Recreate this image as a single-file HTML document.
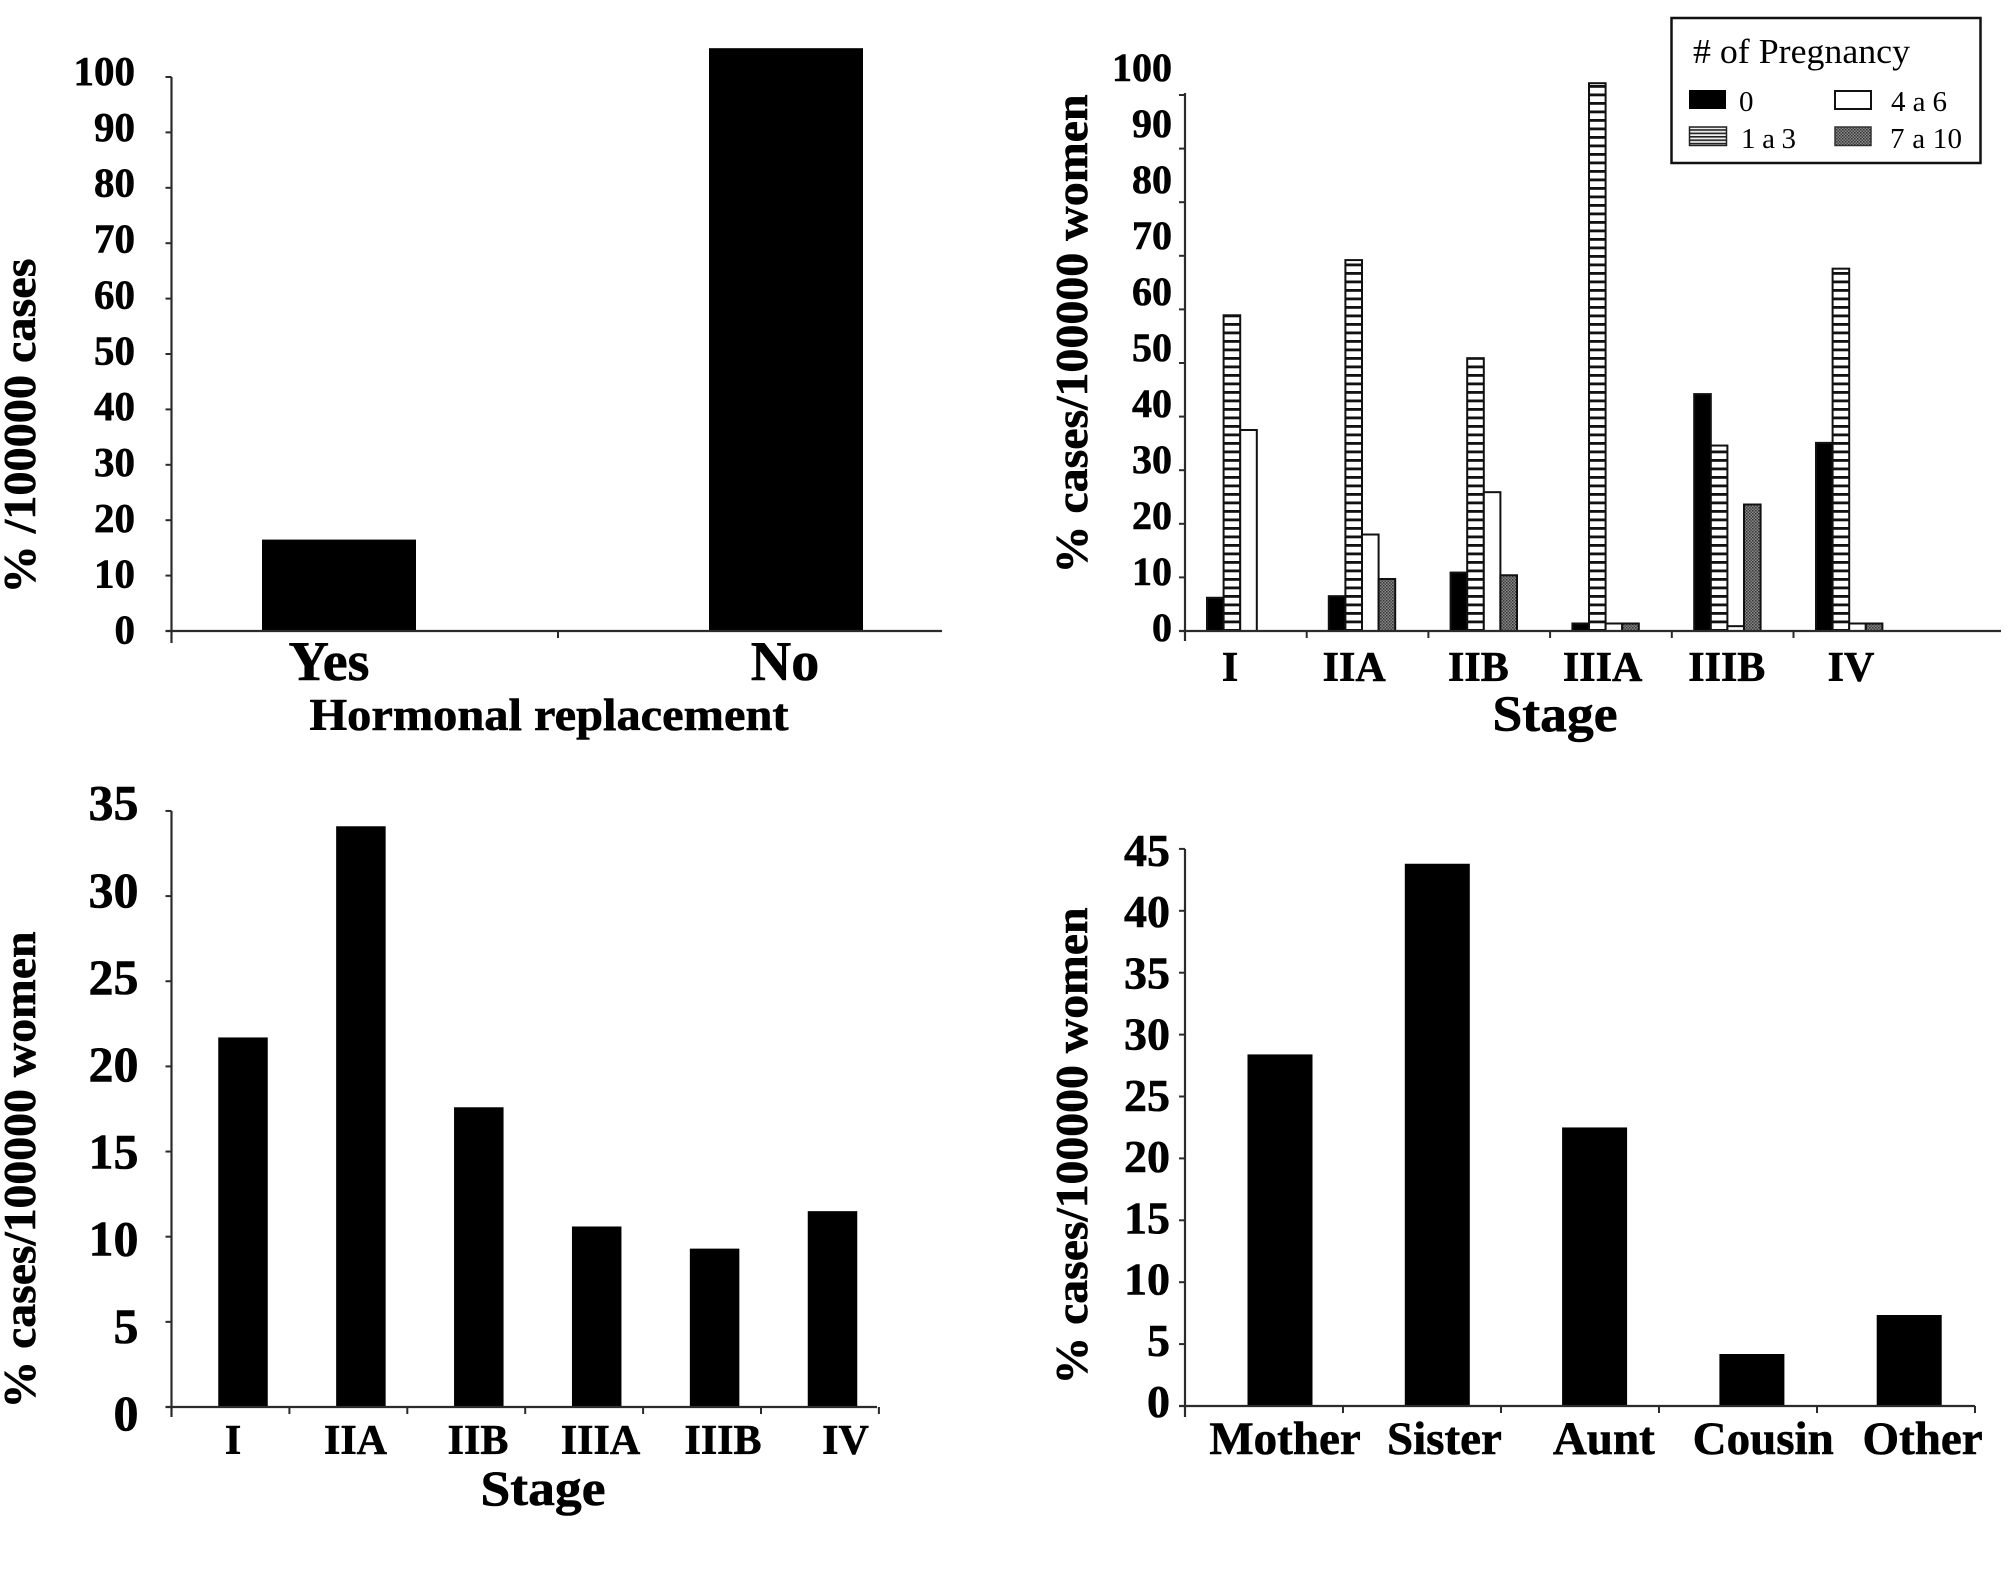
<!DOCTYPE html>
<html lang="en">
<head>
<meta charset="utf-8">
<title>Breast cancer risk factor bar charts</title>
<style>
html,body{margin:0;padding:0;background:#fff;}
svg{display:block;}
text{font-family:"Liberation Serif",serif;fill:#000;}
.b{font-weight:bold;stroke:#000;stroke-width:.6px;}
</style>
</head>
<body>
<svg id="figure" xmlns="http://www.w3.org/2000/svg" width="2008" height="1591" viewBox="0 0 2008 1591">
  <defs>
    <pattern id="stripes" patternUnits="userSpaceOnUse" width="8" height="8.5">
      <rect width="8" height="8.5" fill="#fff"/>
      <rect y="0" width="8" height="2.8" fill="#111"/>
    </pattern>
    <pattern id="stripes-fine" patternUnits="userSpaceOnUse" width="4" height="3.4">
      <rect width="4" height="3.4" fill="#eee"/>
      <rect y="0" width="4" height="1.6" fill="#222"/>
    </pattern>
    <pattern id="dots" patternUnits="userSpaceOnUse" width="3" height="3">
      <rect width="3" height="3" fill="#8a8a8a"/>
      <rect width="1.5" height="1.5" fill="#333"/>
      <rect x="1.5" y="1.5" width="1.5" height="1.5" fill="#444"/>
    </pattern>
  </defs>
  <rect width="2008" height="1591" fill="#fff"/>

  <g id="panel-hormonal">
    <text class="b" transform="translate(35,426) rotate(-90)" text-anchor="middle" font-size="46" textLength="335" lengthAdjust="spacingAndGlyphs">% /100000 cases</text>
    <text class="b" x="549" y="730" text-anchor="middle" font-size="45" textLength="479" lengthAdjust="spacingAndGlyphs">Hormonal replacement</text>
  </g>

  <g id="panel-pregnancy">
    <text class="b" transform="translate(1087,334) rotate(-90)" text-anchor="middle" font-size="46" textLength="479" lengthAdjust="spacingAndGlyphs">% cases/100000 women</text>
    <text class="b" x="1555" y="731" text-anchor="middle" font-size="51" textLength="125" lengthAdjust="spacingAndGlyphs">Stage</text>
  </g>

  <g id="panel-stage">
    <text class="b" transform="translate(35,1170) rotate(-90)" text-anchor="middle" font-size="46" textLength="477" lengthAdjust="spacingAndGlyphs">% cases/100000 women</text>
    <text class="b" x="543" y="1505" text-anchor="middle" font-size="50" textLength="125" lengthAdjust="spacingAndGlyphs">Stage</text>
  </g>

  <g id="panel-relative">
    <text class="b" transform="translate(1087,1146) rotate(-90)" text-anchor="middle" font-size="46" textLength="477" lengthAdjust="spacingAndGlyphs">% cases/100000 women</text>
  </g>

  <g id="legend">
    <rect x="1671.5" y="18" width="309" height="145" fill="#fff" stroke="#111" stroke-width="2.5"/>
    <text x="1693" y="63" font-size="35" textLength="217" lengthAdjust="spacingAndGlyphs"># of Pregnancy</text>
    <rect x="1689" y="90" width="37" height="19" fill="#000"/>
    <text x="1739" y="111" font-size="29">0</text>
    <rect x="1689.5" y="127" width="37" height="18.5" fill="url(#stripes-fine)" stroke="#222" stroke-width="1.5"/>
    <text x="1741" y="148" font-size="29" textLength="55">1 a 3</text>
    <rect x="1835" y="91" width="36" height="18" fill="#fff" stroke="#111" stroke-width="2"/>
    <text x="1891" y="111" font-size="29" textLength="56">4 a 6</text>
    <rect x="1835" y="127" width="36" height="18.5" fill="url(#dots)" stroke="#333" stroke-width="1.5"/>
    <text x="1890" y="148" font-size="29" textLength="72">7 a 10</text>
  </g>
</svg>
<script>
// ---- chart data ----
const hormonalCategories = ["Yes", "No"];
const hormonalValues = [16.5, 105.2];
const hormonalTicks = [0, 10, 20, 30, 40, 50, 60, 70, 80, 90, 100];

const pregnancyCategories = ["I", "IIA", "IIB", "IIIA", "IIIB", "IV"];
const pregnancy0 = [6.2, 6.5, 10.9, 1.4, 44.2, 35.1];
const pregnancy1a3 = [58.9, 69.2, 50.9, 102.2, 34.6, 67.6];
const pregnancy4a6 = [37.5, 18, 25.9, 1.4, 0.9, 1.4];
const pregnancy7a10 = [0, 9.7, 10.4, 1.4, 23.6, 1.4];
const pregnancyTicks = [0, 10, 20, 30, 40, 50, 60, 70, 80, 90, 100];

const stageCategories = ["I", "IIA", "IIB", "IIIA", "IIIB", "IV"];
const stageValues = [21.7, 34.1, 17.6, 10.6, 9.3, 11.5];
const stageTicks = [0, 5, 10, 15, 20, 25, 30, 35];

const relativeCategories = ["Mother", "Sister", "Aunt", "Cousin", "Other"];
const relativeValues = [28.4, 43.8, 22.5, 4.2, 7.35];
const relativeTicks = [0, 5, 10, 15, 20, 25, 30, 35, 40, 45];

// ---- drawing ----
const NS = "http://www.w3.org/2000/svg";
const AXIS = "#2b2b2b";

function make(tag, parent, attrs) {
  const el = document.createElementNS(NS, tag);
  for (const k in attrs) el.setAttribute(k, attrs[k]);
  parent.appendChild(el);
  return el;
}

function drawAxes(g, p, categories, ticks) {
  const y = v => p.y0 - v * p.unit;
  const yAxis = make("line", g, {x1: p.axisX, x2: p.axisX, y1: p.axisTop, y2: p.axisBottom, stroke: AXIS, "stroke-width": 2.2});
  
  
  const xAxis = make("line", g, {x1: p.axisX - 6, x2: p.axisEnd, y1: p.y0, y2: p.y0, stroke: AXIS, "stroke-width": 2.2});
  
  

  ticks.forEach(v => {
    const t = make("line", g, {x1: p.axisX - 6, x2: p.axisX, y1: y(v), y2: y(v), stroke: AXIS, "stroke-width": 2});
    
    
    const lab = make("text", g, {x: p.labelRight, y: p.labelBase0 - v * p.labelUnit, "text-anchor": "end", "font-size": p.tickFont, "class": "b"});
    lab.textContent = String(v);
    
    
  });

  for (let i = 1; i <= p.xTickCount; i++) {
    const tx = p.axisX + i * p.tickStep;
    const t = make("line", g, {x1: tx, x2: tx, y1: p.y0, y2: p.y0 + 7, stroke: AXIS, "stroke-width": 2});
    
    
  }

  categories.forEach((c, i) => {
    const lab = make("text", g, {x: p.catX0 + i * p.catStep, y: p.catBase, "text-anchor": "middle", "font-size": p.catFont, "class": "b"});
    lab.textContent = c;
    
    
  });
}

function drawSimple(id, p, categories, values, ticks) {
  const g = document.getElementById(id);
  values.forEach((v, i) => {
    const top = p.y0 - v * p.unit;
    const bar = make("rect", g, {x: p.barX0 + i * p.barStep - p.barW / 2, y: top, width: p.barW, height: p.y0 - top, fill: "#000"});
    
    
  });
  drawAxes(g, p, categories, ticks);
}

function drawGrouped(id, p, categories, seriesList, ticks) {
  const g = document.getElementById(id);
  seriesList.forEach((s, si) => {
    s.values.forEach((v, i) => {
      if (v <= 0) return;
      const top = p.y0 - v * p.unit;
      const bar = make("rect", g, {
        x: p.barX0 + i * p.barStep + si * p.barW,
        y: top,
        width: p.barW,
        height: p.y0 - top,
        fill: s.fill,
        stroke: "#111",
        "stroke-width": 2
      });
      
      
    });
  });
  drawAxes(g, p, categories, ticks);
}

drawSimple("panel-hormonal", {
  axisX: 171.5, axisTop: 77, axisBottom: 643, axisEnd: 942,
  y0: 631, unit: 5.54,
  labelRight: 135, labelBase0: 643.5, labelUnit: 5.585, tickFont: 41,
  tickStep: 386.5, xTickCount: 1,
  catX0: 329, catStep: 456, catBase: 680, catFont: 56,
  barX0: 339, barStep: 447, barW: 154
}, hormonalCategories, hormonalValues, hormonalTicks);

drawGrouped("panel-pregnancy", {
  axisX: 1185, axisTop: 93, axisBottom: 641, axisEnd: 2001,
  y0: 631, unit: 5.36,
  labelRight: 1172, labelBase0: 641, labelUnit: 5.6, tickFont: 40,
  tickStep: 121.7, xTickCount: 5,
  catX0: 1230, catStep: 124.2, catBase: 681, catFont: 42,
  barX0: 1207, barStep: 121.8, barW: 16.6
}, pregnancyCategories, [
  {key: "0", values: pregnancy0, fill: "#000"},
  {key: "1-a-3", values: pregnancy1a3, fill: "url(#stripes)"},
  {key: "4-a-6", values: pregnancy4a6, fill: "#fff"},
  {key: "7-a-10", values: pregnancy7a10, fill: "url(#dots)"}
], pregnancyTicks);

drawSimple("panel-stage", {
  axisX: 171.5, axisTop: 811, axisBottom: 1417, axisEnd: 877,
  y0: 1407, unit: 17.03,
  labelRight: 138.5, labelBase0: 1430, labelUnit: 17.44, tickFont: 50,
  tickStep: 117.9, xTickCount: 6,
  catX0: 233, catStep: 122.5, catBase: 1454, catFont: 42,
  barX0: 243, barStep: 117.9, barW: 49.5
}, stageCategories, stageValues, stageTicks);

drawSimple("panel-relative", {
  axisX: 1185, axisTop: 849, axisBottom: 1417, axisEnd: 1975,
  y0: 1406, unit: 12.38,
  labelRight: 1170, labelBase0: 1417, labelUnit: 12.25, tickFont: 46,
  tickStep: 158, xTickCount: 5,
  catX0: 1285, catStep: 159.4, catBase: 1454, catFont: 47,
  barX0: 1280, barStep: 157.3, barW: 65
}, relativeCategories, relativeValues, relativeTicks);
</script>
</body>
</html>
